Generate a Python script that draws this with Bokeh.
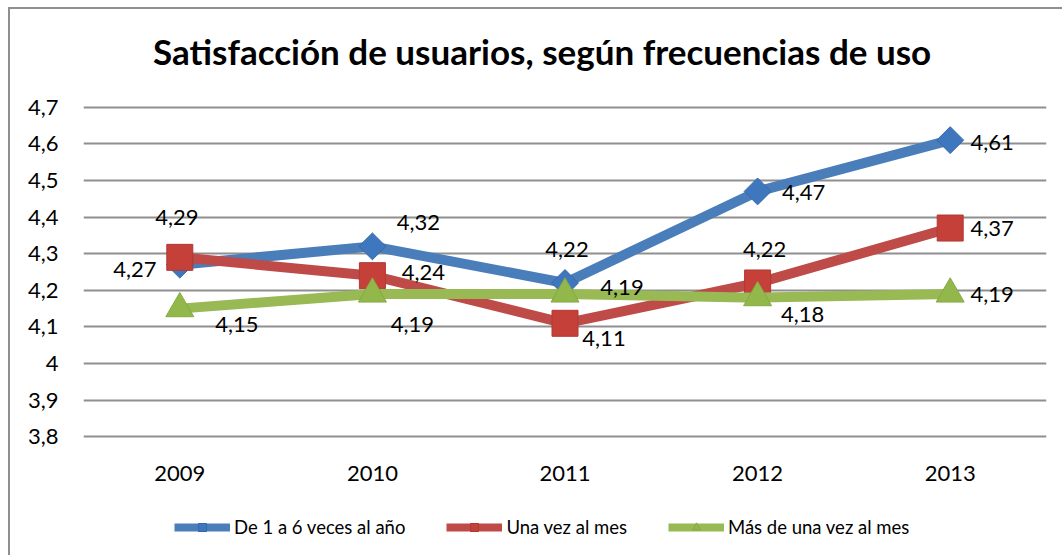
from bokeh.plotting import figure
from bokeh.models import (ColumnDataSource, FactorRange, Range1d, FixedTicker,
                          CustomJSTickFormatter, Legend, LegendItem, Div)
from bokeh.layouts import column
from bokeh.core.properties import value
from bokeh.embed import file_html
from bokeh.resources import INLINE
import math

# ---------------- data ----------------
years = ["2009", "2010", "2011", "2012", "2013"]
series_names = ["De 1 a 6 veces al año", "Una vez al mes", "Más de una vez al mes"]
de_1_a_6 = [4.27, 4.32, 4.22, 4.47, 4.61]
una_vez_mes = [4.29, 4.24, 4.11, 4.22, 4.37]
mas_de_una_vez = [4.15, 4.19, 4.19, 4.18, 4.19]
y_ticks = [3.8, 3.9, 4.0, 4.1, 4.2, 4.3, 4.4, 4.5, 4.6, 4.7]
title_text = "Satisfacción de usuarios, según frecuencias de uso"

# ---------------- label placement (px offsets) ----------------
blue_dx = [-45, 46, 2, 46, 42]
blue_dy = [5, -24, -33, 1, 2]
red_dx = [-3, 51, 39, 7, 42]
red_dy = [-40, -3, 15, -33, 0]
green_dx = [57, 40, 57, 45, 42]
green_dy = [16, 31, -6, 17, 1]

FONT = "Lato"
W = 1052

# ---------------- title ----------------
title_div = Div(
    text=('<div style="padding-top:25px; padding-left:143px; text-align:left; '
          'font-family:Lato; font-weight:bold; font-size:35px; line-height:35px; '
          'color:black; white-space:nowrap;">' + title_text + '</div>'),
    width=W, height=78, margin=0)

# ---------------- main chart ----------------
p = figure(x_range=FactorRange(factors=years, range_padding=0),
           y_range=Range1d(3.79, 4.71),
           width=W, height=409, title=None,
           min_border_left=73, min_border_right=16,
           min_border_top=16, min_border_bottom=56,
           output_backend="svg", toolbar_location=None)
p.outline_line_color = None
p.background_fill_color = "white"
p.border_fill_color = "white"

for ax in (p.xaxis[0], p.yaxis[0]):
    ax.axis_line_color = None
    ax.major_tick_line_color = None
    ax.minor_tick_line_color = None
    ax.major_tick_out = 0
    ax.major_tick_in = 0
    ax.minor_tick_out = 0
    ax.minor_tick_in = 0
    ax.major_label_text_font = FONT
    ax.major_label_text_font_size = "22px"
    ax.major_label_text_color = "black"
p.yaxis.ticker = FixedTicker(ticks=y_ticks)
p.yaxis.formatter = CustomJSTickFormatter(
    code="var s = (Math.round(tick*10)/10).toString(); return s.replace('.', ',');")
p.yaxis.major_label_standoff = 25
p.xaxis.major_label_standoff = 25

p.xgrid.visible = False
p.ygrid.ticker = FixedTicker(ticks=y_ticks)
p.ygrid.grid_line_color = "#8f8f8f"
p.ygrid.grid_line_width = 2

series = [
    (de_1_a_6, "#4a7ebb", "square", 19, math.pi / 4, "#3f77bf", "#3669a8", blue_dx, blue_dy),
    (una_vez_mes, "#be4b48", "square", 26, 0, "#c6403a", "#b03833", red_dx, red_dy),
    (mas_de_una_vez, "#98b954", "triangle", 28, 0, "#92b74b", "#86a944", green_dx, green_dy),
]

for (vals, lc, mk, sz, ang, fc, mlc, dx, dy) in series:
    p.line(x=years, y=vals, line_color=lc, line_width=10, line_join="round")
    p.scatter(x=years, y=vals, marker=mk, size=sz, angle=ang,
              fill_color=fc, line_color=mlc, line_width=1)

for (vals, lc, mk, sz, ang, fc, mlc, dx, dy) in series:
    src = ColumnDataSource(dict(x=years, y=vals,
                                t=[("%.2f" % v).replace(".", ",") for v in vals],
                                dx=dx, dy=dy))
    p.text(x="x", y="y", text="t", x_offset="dx", y_offset="dy", source=src,
           text_align="center", text_baseline="middle",
           text_font=value(FONT), text_font_size="22px", text_color="black")

# ---------------- legend strip ----------------
lf = figure(width=W, height=59, title=None,
            x_range=Range1d(0, 1), y_range=Range1d(0, 1),
            x_axis_location=None, y_axis_location=None,
            min_border=0, output_backend="svg", toolbar_location=None)
lf.outline_line_color = None
lf.background_fill_color = "white"
lf.border_fill_color = "white"
lf.grid.visible = False

# legend-sample renderers (kept outside the visible range of the strip)
items = []
for (vals, lc, mk, sz, ang, fc, mlc, dx, dy), name in zip(series, series_names):
    lr = lf.line(x=[5, 6], y=[5, 5], line_color=lc, line_width=8)
    ms = lf.scatter(x=[5], y=[5], marker=mk, size=9 if ang == 0 else 7,
                    angle=ang, fill_color=fc, line_color=mlc)
    items.append(LegendItem(label=name, renderers=[lr, ms]))

legend = Legend(items=items, orientation="horizontal", location=(91, 17),
                glyph_width=56, glyph_height=20, label_standoff=4, spacing=41,
                padding=0, margin=0, border_line_color=None,
                background_fill_alpha=0,
                label_text_font=FONT, label_text_font_size="18.5px",
                label_text_color="black")
lf.add_layout(legend, "center")

layout = column(title_div, p, lf, spacing=0,
                styles={"border-top": "2px solid #8f8f8f",
                        "border-left": "2px solid #8f8f8f",
                        "margin-top": "7px", "margin-left": "8px"})

open("out.html", "w").write(file_html(layout, INLINE))
